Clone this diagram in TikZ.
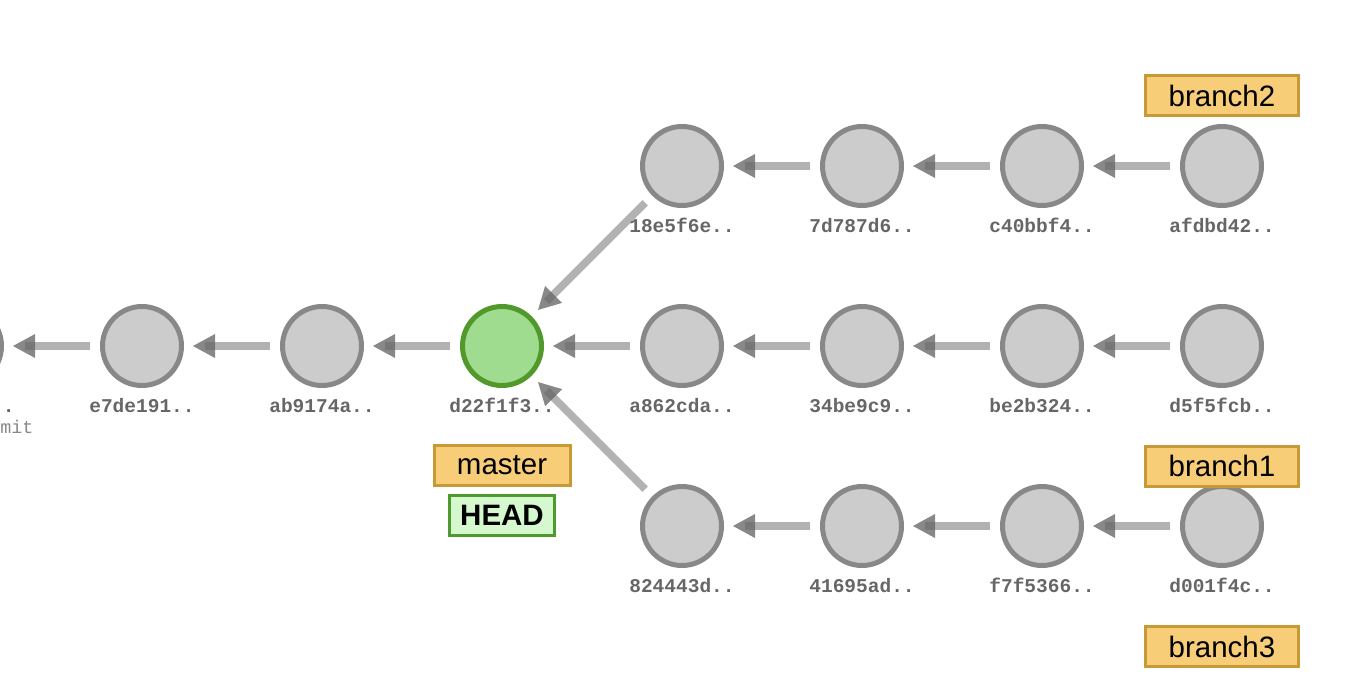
\documentclass[tikz,border=0pt]{standalone}
\usepackage{fontspec}
\setmainfont{Liberation Sans}
\newfontfamily\monof{Liberation Mono}
\usetikzlibrary{calc}
\definecolor{commitfill}{HTML}{CCCCCC}
\definecolor{commitdraw}{HTML}{888888}
\definecolor{headfill}{HTML}{A0DC8F}
\definecolor{headdraw}{HTML}{52992C}
\definecolor{edgecol}{HTML}{666666}
\definecolor{hashgray}{HTML}{666666}
\definecolor{msggray}{HTML}{888888}
\definecolor{reffill}{HTML}{F8CD78}
\definecolor{refdraw}{HTML}{C79A36}
\definecolor{hboxfill}{HTML}{D5F8CF}
\definecolor{hboxdraw}{HTML}{4F9A2C}
\tikzset{
  commit/.style={circle, draw=commitdraw, fill=commitfill, line width=5pt, minimum size=79pt, inner sep=0pt},
  headcommit/.style={commit, draw=headdraw, fill=headfill},
  hashlabel/.style={font=\monof\bfseries\fontsize{19.5}{20}\selectfont, text=hashgray, anchor=base, inner sep=0pt},
  msglabel/.style={font=\monof\fontsize{18.3}{19}\selectfont, text=msggray, anchor=base east, inner sep=0pt},
  edgeline/.style={draw=edgecol, draw opacity=0.5, line width=7.5pt},
  edgehead/.style={fill=edgecol, fill opacity=0.78},
  refbox/.style={draw=refdraw, fill=reffill, line width=3pt, minimum width=153pt, minimum height=40pt, inner sep=0pt, font=\fontsize{29.5}{30}\selectfont},
  headbox/.style={draw=hboxdraw, fill=hboxfill, line width=3pt, minimum width=105pt, minimum height=40pt, inner sep=0pt, font=\bfseries\fontsize{29.5}{30}\selectfont}
}
\newcommand\gitedge[2]{%
  \draw[edgeline] ($(#1.center)!52pt!(#2.center)$) -- ($(#2.center)!63pt!(#1.center)$);
  \path ($(#2.center)!51pt!(#1.center)$) coordinate (tipT) ($(#2.center)!73pt!(#1.center)$) coordinate (tipB);
  \fill[edgehead] (tipT) -- ($(tipB)!12pt!90:(tipT)$) -- ($(tipB)!12pt!-90:(tipT)$) -- cycle;}
\begin{document}
\begin{tikzpicture}[x=1pt,y=-1pt]
\useasboundingbox (0,0) rectangle (1362,696);
\clip (0,0) rectangle (1362,696);
% commits
\node[commit] (c0) at (-38,346) {};
\node[commit] (e7de191) at (142,346) {};
\node[commit] (ab9174a) at (322,346) {};
\node[headcommit] (d22f1f3) at (502,346) {};
\node[commit] (a862cda) at (682,346) {};
\node[commit] (34be9c9) at (862,346) {};
\node[commit] (be2b324) at (1042,346) {};
\node[commit] (d5f5fcb) at (1222,346) {};
\node[commit] (18e5f6e) at (682,166) {};
\node[commit] (7d787d6) at (862,166) {};
\node[commit] (c40bbf4) at (1042,166) {};
\node[commit] (afdbd42) at (1222,166) {};
\node[commit] (824443d) at (682,526) {};
\node[commit] (41695ad) at (862,526) {};
\node[commit] (f7f5366) at (1042,526) {};
\node[commit] (d001f4c) at (1222,526) {};
% edges
\gitedge{e7de191}{c0}
\gitedge{ab9174a}{e7de191}
\gitedge{d22f1f3}{ab9174a}
\gitedge{a862cda}{d22f1f3}
\gitedge{34be9c9}{a862cda}
\gitedge{be2b324}{34be9c9}
\gitedge{d5f5fcb}{be2b324}
\gitedge{18e5f6e}{d22f1f3}
\gitedge{7d787d6}{18e5f6e}
\gitedge{c40bbf4}{7d787d6}
\gitedge{afdbd42}{c40bbf4}
\gitedge{824443d}{d22f1f3}
\gitedge{41695ad}{824443d}
\gitedge{f7f5366}{41695ad}
\gitedge{d001f4c}{f7f5366}
% hash labels
\node[hashlabel] (l-c0) at (-38,412) {4b2c9e0..};
\node[msglabel] (m-c0) at (33.5,433) {Initial commit};
\node[hashlabel] (l-e7de191) at (142,412) {e7de191..};
\node[hashlabel] (l-ab9174a) at (322,412) {ab9174a..};
\node[hashlabel] (l-d22f1f3) at (502,412) {d22f1f3..};
\node[hashlabel] (l-a862cda) at (682,412) {a862cda..};
\node[hashlabel] (l-34be9c9) at (862,412) {34be9c9..};
\node[hashlabel] (l-be2b324) at (1042,412) {be2b324..};
\node[hashlabel] (l-d5f5fcb) at (1222,412) {d5f5fcb..};
\node[hashlabel] (l-18e5f6e) at (682,232) {18e5f6e..};
\node[hashlabel] (l-7d787d6) at (862,232) {7d787d6..};
\node[hashlabel] (l-c40bbf4) at (1042,232) {c40bbf4..};
\node[hashlabel] (l-afdbd42) at (1222,232) {afdbd42..};
\node[hashlabel] (l-824443d) at (682,592) {824443d..};
\node[hashlabel] (l-41695ad) at (862,592) {41695ad..};
\node[hashlabel] (l-f7f5366) at (1042,592) {f7f5366..};
\node[hashlabel] (l-d001f4c) at (1222,592) {d001f4c..};
% refs
\node[refbox] (branch2) at (1222,95.5) {branch2};
\node[refbox] (branch1) at (1222,466) {branch1};
\node[refbox] (branch3) at (1222,646.5) {branch3};
\node[refbox, minimum width=136pt] (master) at (502,465.5) {master};
\node[headbox] (HEAD) at (502,515.5) {HEAD};
\end{tikzpicture}
\end{document}
